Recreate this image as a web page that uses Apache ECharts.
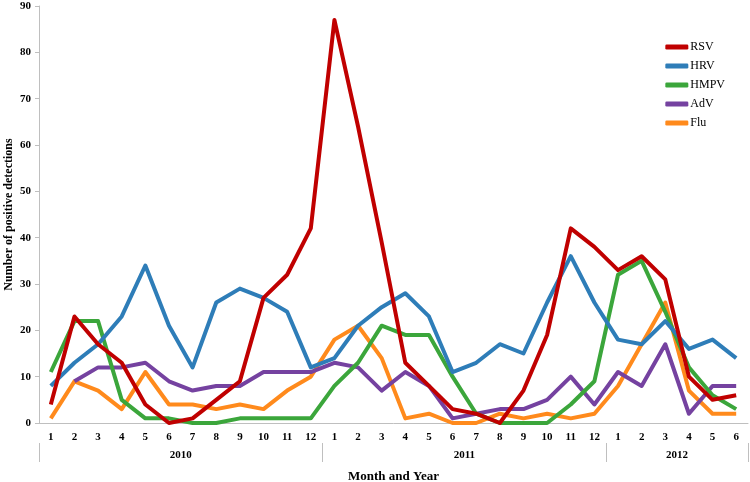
<!DOCTYPE html>
<html>
<head>
<meta charset="utf-8">
<script src="https://cdn.jsdelivr.net/npm/echarts@6/dist/echarts.min.js"></script>
<style>html,body{margin:0;padding:0;background:#fff}#c{width:750px;height:482px}</style>
</head>
<body>
<div id="c"></div>
<script>
var months = ['1','2','3','4','5','6','7','8','9','10','11','12','1','2','3','4','5','6','7','8','9','10','11','12','1','2','3','4','5','6'];
var years = ['2010','2011','2012'];
var yearSpans = [12, 12, 6];
var RSV  = [4,23,17,13,4,0,1,5,9,27,32,42, 87,64,39,13,8,3,2,0,7,19,42,38, 33,36,31,10,5,6];
var HRV  = [8,13,17,23,34,21,12,26,29,27,24,12, 14,21,25,28,23,11,13,17,15,26,36,26, 18,17,22,16,18,14];
var HMPV = [11,22,22,5,1,1,0,0,1,1,1,1, 8,13,21,19,19,10,2,0,0,0,4,9, 32,35,24,12,6,3];
var AdV  = [null,9,12,12,13,9,7,8,8,11,11,11, 13,12,7,11,8,1,2,3,3,5,10,4, 11,8,17,2,8,8];
var Flu  = [1,9,7,3,11,4,4,3,4,3,7,10, 18,21,14,1,2,0,0,2,1,2,1,2, 8,17,26,7,2,2];
var seriesNames = ['RSV','HRV','HMPV','AdV','Flu'];
var seriesData = [RSV, HRV, HMPV, AdV, Flu];
var colors = ['#C00000','#2E7DB8','#3BA63B','#7542A0','#FF8A1C'];

var nHalf = 0; yearSpans.forEach(function(s){ nHalf += s*2; });
var yearCats = []; var labelIdx = {}; var tickIdx = {0:true};
var pos = 0;
yearSpans.forEach(function(s, k){
  labelIdx[pos + s] = years[k];
  pos += s*2;
  tickIdx[pos] = true;
});
for (var i = 0; i <= nHalf; i++) yearCats.push(labelIdx[i] || '');

var font = '"Liberation Serif", "Times New Roman", serif';
var chart = echarts.init(document.getElementById('c'), null, {renderer:'canvas'});
chart.setOption({
  animation: false,
  color: colors,
  textStyle: {fontFamily: font},
  grid: {left: 39, right: 2, top: 6, bottom: 59, containLabel: false, outerBoundsMode: 'none'},
  legend: {
    orient: 'vertical', right: 20, top: 36,
    itemWidth: 23, itemHeight: 5, itemGap: 7,
    icon: 'roundRect',
    textStyle: {fontFamily: font, fontSize: 12, color: '#000', padding: [0,0,0,-3]},
    data: seriesNames
  },
  xAxis: [{
    type: 'category', data: months, boundaryGap: true, position: 'bottom',
    axisLine: {lineStyle: {color: '#bfbfbf', width: 1}},
    axisTick: {length: 20, lineStyle: {color: '#bfbfbf'}, alignWithLabel: false},
    axisLabel: {fontFamily: font, fontWeight: 'bold', fontSize: 11, color: '#000', margin: 9, interval: 0}
  }, {
    type: 'category', data: yearCats, boundaryGap: false, position: 'bottom', offset: 20,
    axisLine: {show: false},
    axisTick: {length: 19, lineStyle: {color: '#bfbfbf'}, interval: function(i){ return !!tickIdx[i]; }},
    axisLabel: {fontFamily: font, fontWeight: 'bold', fontSize: 11, color: '#000', margin: 7,
      interval: function(i, v){ return v !== ''; }},
    name: 'Month and Year', nameLocation: 'middle', nameGap: 27, nameMoveOverlap: false,
    nameTextStyle: {fontFamily: font, fontWeight: 'bold', fontSize: 13, color: '#000'}
  }],
  yAxis: {
    type: 'value', min: 0, max: 90, interval: 10,
    axisLine: {show: true, lineStyle: {color: '#bfbfbf'}},
    axisTick: {show: true, length: 4, lineStyle: {color: '#bfbfbf'}},
    splitLine: {show: false},
    axisLabel: {fontFamily: font, fontWeight: 'bold', fontSize: 11, color: '#000', margin: 8},
    name: 'Number of positive detections', nameLocation: 'middle', nameGap: 24, nameMoveOverlap: false,
    nameTextStyle: {fontFamily: font, fontWeight: 'bold', fontSize: 12, color: '#000'}
  },
  series: seriesNames.map(function(n, k){
    return {
      name: n, type: 'line', data: seriesData[k], xAxisIndex: 0,
      symbol: 'none', showSymbol: false,
      lineStyle: {width: 4, color: colors[k], join: 'round'},
      itemStyle: {color: colors[k]},
      z: 10 - k
    };
  })
});
</script>
</body>
</html>
